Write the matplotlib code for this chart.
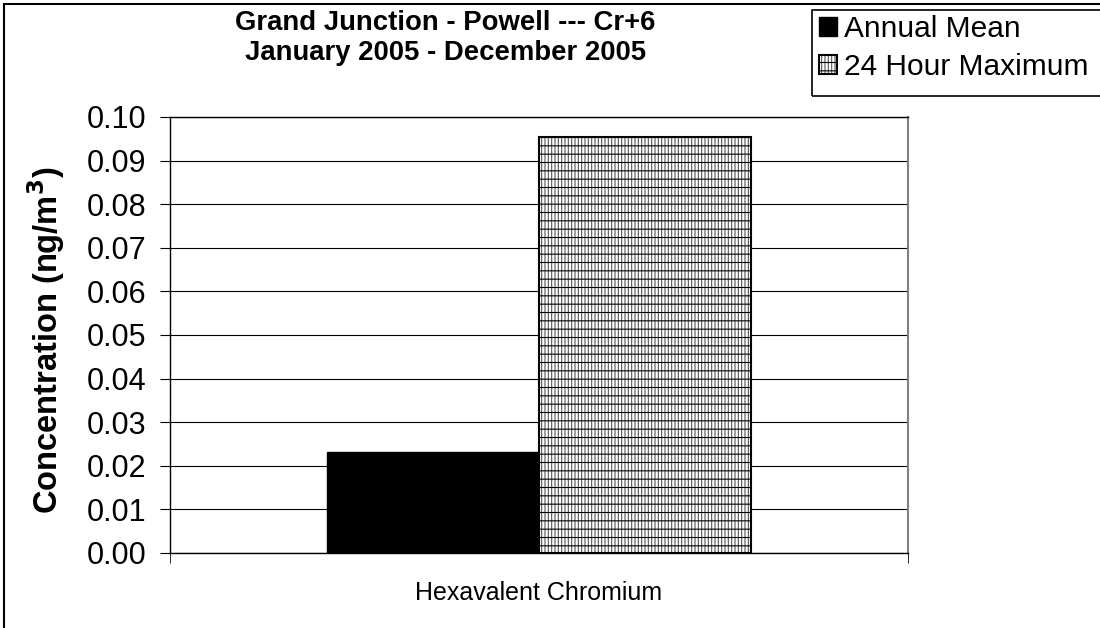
import matplotlib
matplotlib.use("Agg")
import matplotlib.pyplot as plt
from matplotlib.patches import Rectangle
from matplotlib.legend_handler import HandlerTuple

plt.rcParams['font.family'] = ['Liberation Sans', 'DejaVu Sans']
plt.rcParams['hatch.linewidth'] = 0.8

# Data
title_lines = ["Grand Junction - Powell --- Cr+6", "January 2005 - December 2005"]
categories = ["Hexavalent Chromium"]
series_names = ["Annual Mean", "24 Hour Maximum"]
annual_mean = [0.0232]
max_24h = [0.0954]
y_ticks = [0.00, 0.01, 0.02, 0.03, 0.04, 0.05, 0.06, 0.07, 0.08, 0.09, 0.10]

fig = plt.figure(figsize=(11, 6.28), dpi=100)
ax = fig.add_axes([170/1100, 1-553/628, (908-170)/1100, (553-117)/628])

width = 0.287
x = list(range(len(categories)))
xa = [v - width/2 for v in x]
xb = [v + width/2 for v in x]

b1 = ax.bar(xa, annual_mean, width, color='black', edgecolor='black', linewidth=1, zorder=3)
b2a = ax.bar(xb, max_24h, width, color='white', edgecolor='#555555', hatch='|||||', linewidth=0, zorder=3)
b2b = ax.bar(xb, max_24h, width, color='none', edgecolor='black', hatch='--', linewidth=1.5, zorder=4)

ax.set_xlim(-0.5, len(categories) - 0.5)
ax.set_ylim(0, 0.10)
ax.set_yticks(y_ticks)
ax.set_yticklabels([f"{t:.2f}" for t in y_ticks], fontsize=22)
ax.yaxis.grid(True, color='black', linewidth=0.8, zorder=0)
ax.set_axisbelow(True)

ax.set_xticks(x)
ax.set_xticklabels(categories, fontsize=18)
ax.tick_params(axis='x', which='major', length=0, pad=20)
ax.set_xticks([-0.5, len(categories) - 0.5], minor=True)
ax.tick_params(axis='x', which='minor', length=7, direction='out', color='black')
ax.tick_params(axis='y', length=7, direction='out', pad=10)

ax.set_ylabel("Concentration (ng/m$^\\mathbf{3}$)", fontsize=23.5, fontweight='bold')
ax.yaxis.set_label_coords(-0.14, 0.489)

for s in ['left', 'bottom', 'top']:
    ax.spines[s].set_color('black')
    ax.spines[s].set_linewidth(1)
ax.spines['right'].set_color('#808080')
ax.spines['right'].set_linewidth(1.5)

fig.text(0.405, 1 - 10/628, "\n".join(title_lines), ha='center', va='top',
         fontsize=19.8, fontweight='bold', linespacing=1.2)

leg = fig.legend([b1, (b2a, b2b)], series_names,
                 handler_map={tuple: HandlerTuple(ndivide=1)},
                 loc='upper left', bbox_to_anchor=(812/1100, 1 - 8/628),
                 fontsize=21.5, frameon=False,
                 handlelength=0.6, handleheight=0.6, handletextpad=0.22,
                 borderpad=0.25, labelspacing=0.33, borderaxespad=0)

# legend box (extends past the right edge like the original)
fig.patches.append(Rectangle((812/1100, 1 - 96/628), 0.3, 86/628, transform=fig.transFigure,
                             fill=False, edgecolor='black', linewidth=1.2))

# outer chart border
fig.patches.append(Rectangle((4/1100, -0.1), 2, 1.1 - 4/628, transform=fig.transFigure,
                             fill=False, edgecolor='black', linewidth=1.5))

fig.savefig("out.png", dpi=100)
